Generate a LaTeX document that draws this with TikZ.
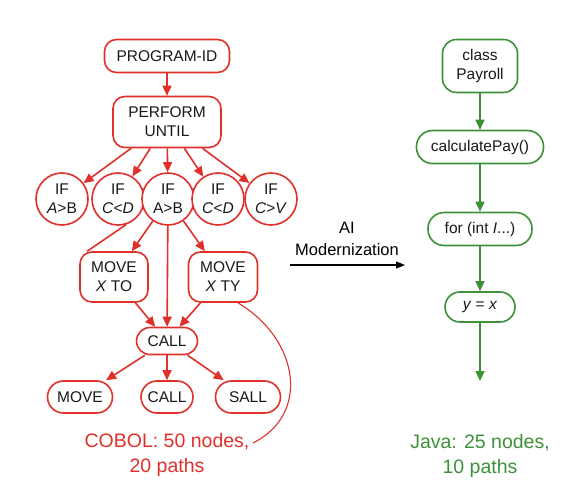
\documentclass[tikz,border=0pt]{standalone}
\usepackage{fontspec}
\setmainfont{Liberation Sans}
\usepackage{xcolor}
\usepackage{tikz}
\usetikzlibrary{
	arrows.meta
}

\definecolor{cobol-red}{RGB}{224,48,42}
\definecolor{java-green}{RGB}{62,145,56}
\definecolor{ink}{RGB}{25,25,25}

\tikzset{
	cobol/.style={draw=cobol-red,line width=1.6pt,fill=white,rounded corners=12pt,
		text=ink,align=center,inner sep=0pt,font=\fontsize{15.5}{19}\selectfont},
	cobol-if/.style={cobol,circle,minimum size=52pt},
	java/.style={cobol,draw=java-green},
	cobol-arrow/.style={draw=cobol-red,line width=1.6pt,-{Triangle[length=10pt,width=9pt]}},
	java-arrow/.style={draw=java-green,line width=1.6pt,-{Triangle[length=10pt,width=9pt]}},
	note/.style={align=center,font=\fontsize{19.5}{25}\selectfont}
}

\begin{document}
\begin{tikzpicture}[x=1pt,y=-1pt]
		\useasboundingbox (0, 0) rectangle (588, 486);

		% COBOL side
		\node[cobol,minimum width=125pt,minimum height=33pt] at (167, 56) (program-id)
			{PROGRAM-ID};
		\node[cobol,minimum width=108pt,minimum height=51pt] at (167, 122) (perform)
			{PERFORM \\ UNTIL};
		\node[cobol-if] at (62, 199) (if-1) {IF \\ \textit{A}>B};
		\node[cobol-if] at (118, 199) (if-2) {IF \\ \textit{C}<\textit{D}};
		\node[cobol-if] at (168, 199) (if-3) {IF \\ A>B};
		\node[cobol-if] at (218, 199) (if-4) {IF \\ \textit{C}<\textit{D}};
		\node[cobol-if] at (271, 199) (if-5) {IF \\ \textit{C}>\textit{V}};
		\node[cobol,minimum width=68pt,minimum height=50pt] at (114, 277) (move-x-to)
			{MOVE \\ \textit{X} TO};
		\node[cobol,minimum width=69pt,minimum height=50pt] at (223, 277) (move-x-ty)
			{MOVE \\ \textit{X} TY};
		\node[cobol,rounded corners=13.5pt,minimum width=61pt,minimum height=27pt] at (167, 341) (call)
			{CALL};
		\node[cobol,rounded corners=16pt,minimum width=65pt,minimum height=32pt] at (80, 397) (move)
			{MOVE};
		\node[cobol,rounded corners=16pt,minimum width=52pt,minimum height=32pt] at (167, 397) (call-end)
			{CALL};
		\node[cobol,rounded corners=16pt,minimum width=65pt,minimum height=32pt] at (248, 397) (sall)
			{SALL};
		\node[note,text=cobol-red] at (167, 455) (cobol-note)
			{COBOL: 50 nodes, \\ 20 paths};

		\draw[cobol-arrow] (program-id) -- (perform);
		\draw[cobol-arrow] (perform) -- (if-1);
		\draw[cobol-arrow] (perform) -- (if-2);
		\draw[cobol-arrow] (perform) -- (if-3);
		\draw[cobol-arrow] (perform) -- (if-4);
		\draw[cobol-arrow] (perform) -- (if-5);
		\draw[draw=cobol-red,line width=1.6pt] (if-2.-72) -- ([xshift=8pt]move-x-to.north west);
		\draw[cobol-arrow] (if-3) -- (move-x-to);
		\draw[cobol-arrow] (if-3) -- (move-x-ty);
		\draw[cobol-arrow] (if-3) -- (call);
		\draw[cobol-arrow] (move-x-to) -- (call);
		\draw[cobol-arrow] (move-x-ty) -- (call);
		\draw[cobol-arrow] (call) -- (move);
		\draw[cobol-arrow] (call) -- (call-end);
		\draw[cobol-arrow] (call) -- (sall);
		\draw[draw=cobol-red,line width=1.1pt] (move-x-ty.-60)
			.. controls (300, 340) and (310, 415) .. ([yshift=12pt]cobol-note.east);

		% modernization step
		\node[align=center,font=\fontsize{16.5}{22}\selectfont] at (347, 239) (ai-label)
			{AI \\ Modernization};
		\coordinate (ai-from) at (290, 265);
		\coordinate (ai-to) at (405, 265);
		\draw[line width=1.1pt,-{Triangle[length=9pt,width=7pt]}] (ai-from) -- (ai-to);

		% Java side
		\node[java,rounded corners=14pt,minimum width=75pt,minimum height=53pt] at (480, 66) (class-payroll)
			{class \\ Payroll};
		\node[java,rounded corners=16pt,minimum width=127pt,minimum height=33pt] at (480, 147) (calc-pay)
			{calculatePay()};
		\node[java,rounded corners=16pt,minimum width=104pt,minimum height=33pt] at (480, 229) (for-loop)
			{for (int \textit{I}...)};
		\node[java,rounded corners=15pt,minimum width=70pt,minimum height=30pt] at (480, 307) (assign)
			{\textit{y} = \textit{x}};
		\coordinate (java-end) at (480, 381);
		\node[note,text=java-green] at (480, 456) (java-note)
			{Java: 25 nodes, \\ 10 paths};

		\draw[java-arrow] (class-payroll) -- (calc-pay);
		\draw[java-arrow] (calc-pay) -- (for-loop);
		\draw[java-arrow] (for-loop) -- (assign);
		\draw[java-arrow] (assign) -- (java-end);
	\end{tikzpicture}
\end{document}
